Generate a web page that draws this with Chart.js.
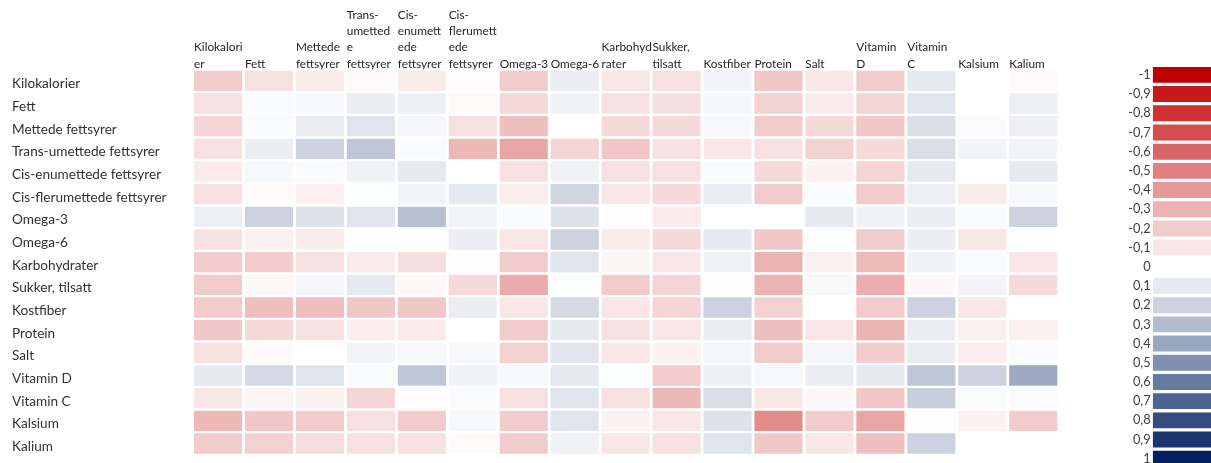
<!DOCTYPE html>
<html lang="no">
<head>
<meta charset="utf-8">
<title>Korrelasjoner mellom næringsstoffer</title>
<script src="https://cdn.jsdelivr.net/npm/chart.js@4.4.1/dist/chart.umd.min.js"></script>
<style>
  html, body { margin: 0; padding: 0; background: #fff; overflow: hidden; width: 1211px; height: 463px; }
  #heat  { position: absolute; left: 0; top: 0; width: 1100px; height: 463px; }
  #scale { position: absolute; left: 1100px; top: 0; width: 140px; height: 478px; }
</style>
</head>
<body>
<div id="heat"><canvas id="heatCanvas"></canvas></div>
<div id="scale"><canvas id="scaleCanvas"></canvas></div>
<script>
// Row and column names of the correlation table
const rowLabels = [
  "Kilokalorier", "Fett", "Mettede fettsyrer", "Trans-umettede fettsyrer",
  "Cis-enumettede fettsyrer", "Cis-flerumettede fettsyrer", "Omega-3", "Omega-6",
  "Karbohydrater", "Sukker, tilsatt", "Kostfiber", "Protein", "Salt",
  "Vitamin D", "Vitamin C", "Kalsium", "Kalium"
];

// Column headings, wrapped the way they appear above the grid
const columnHeaders = [
  ["Kilokalori", "er"], ["Fett"], ["Mettede", "fettsyrer"],
  ["Trans-", "umetted", "e", "fettsyrer"], ["Cis-", "enumett", "ede", "fettsyrer"],
  ["Cis-", "flerumett", "ede", "fettsyrer"], ["Omega-3"], ["Omega-6"],
  ["Karbohyd", "rater"], ["Sukker,", "tilsatt"], ["Kostfiber"], ["Protein"], ["Salt"],
  ["Vitamin", "D"], ["Vitamin", "C"], ["Kalsium"], ["Kalium"]
];

// Correlation coefficients, one array per row (columns in the order above)
const kilokalorier      = [-0.20, -0.12, -0.08, -0.02, -0.08, -0.01, -0.20,  0.08, -0.10, -0.12,  0.05, -0.22, -0.10, -0.20,  0.10,  0.00, -0.02];
const fett              = [-0.12,  0.02,  0.03,  0.08,  0.07, -0.02, -0.15,  0.06, -0.12, -0.13,  0.04, -0.18, -0.08, -0.17,  0.12,  0.00,  0.07];
const mettede           = [-0.16,  0.02,  0.08,  0.12,  0.04, -0.12, -0.25,  0.00, -0.15, -0.15,  0.03, -0.20, -0.15, -0.22,  0.15,  0.02,  0.07];
const transUmettede     = [-0.12,  0.08,  0.20,  0.25,  0.02, -0.28, -0.35, -0.17, -0.22, -0.12, -0.10, -0.12, -0.18, -0.15,  0.15,  0.05,  0.05];
const cisEnumettede     = [-0.08,  0.03,  0.02,  0.06,  0.10,  0.00, -0.12,  0.06, -0.12, -0.12,  0.02, -0.15, -0.05, -0.17,  0.10,  0.00,  0.10];
const cisFlerumettede   = [-0.12, -0.02, -0.05,  0.01,  0.05,  0.10, -0.07,  0.18, -0.10, -0.15,  0.08, -0.20,  0.02, -0.20,  0.07, -0.08,  0.03];
const omega3            = [ 0.07,  0.20,  0.13,  0.12,  0.28,  0.05,  0.02,  0.13, -0.01, -0.08,  0.00,  0.00,  0.10,  0.06,  0.08,  0.02,  0.20];
const omega6            = [-0.12, -0.06, -0.08,  0.00,  0.00,  0.08, -0.10,  0.20, -0.08, -0.15,  0.10, -0.22,  0.01, -0.20,  0.08, -0.10,  0.00];
const karbohydrater     = [-0.20, -0.20, -0.12, -0.08, -0.13, -0.01, -0.20,  0.12, -0.04, -0.10,  0.06, -0.30, -0.06, -0.27,  0.06,  0.02, -0.10];
const sukkerTilsatt     = [-0.20, -0.03,  0.04,  0.10, -0.03, -0.15, -0.33,  0.01, -0.20, -0.17, -0.01, -0.30,  0.03, -0.32, -0.03,  0.05, -0.15];
const kostfiber         = [-0.20, -0.25, -0.25, -0.22, -0.22,  0.08, -0.10,  0.17, -0.10, -0.17,  0.20, -0.18,  0.00, -0.20,  0.20, -0.10,  0.00];
const protein           = [-0.22, -0.15, -0.12, -0.07, -0.08,  0.00, -0.20,  0.10, -0.12, -0.10,  0.08, -0.25, -0.10, -0.30,  0.08, -0.06, -0.06];
const salt              = [-0.12, -0.02,  0.00,  0.05,  0.03,  0.03, -0.18,  0.12, -0.10, -0.05,  0.04, -0.20,  0.04, -0.20,  0.08, -0.07,  0.02];
const vitaminD          = [ 0.10,  0.17,  0.12,  0.02,  0.25,  0.06,  0.03,  0.10,  0.01, -0.20,  0.07,  0.03,  0.08,  0.10,  0.25,  0.20,  0.38];
const vitaminC          = [-0.10, -0.04, -0.05, -0.16, -0.01,  0.02, -0.12,  0.12, -0.12, -0.28,  0.15, -0.10, -0.03, -0.22,  0.22,  0.02,  0.02];
const kalsium           = [-0.28, -0.22, -0.20, -0.12, -0.20,  0.03, -0.20,  0.12, -0.05, -0.10,  0.13, -0.45, -0.20, -0.35, -0.01, -0.05, -0.20];
const kalium            = [-0.20, -0.18, -0.13, -0.12, -0.12, -0.02, -0.20,  0.06, -0.10, -0.12,  0.12, -0.22, -0.10, -0.25,  0.20,  0.00,  0.00];

const matrix = [
  kilokalorier, fett, mettede, transUmettede, cisEnumettede, cisFlerumettede,
  omega3, omega6, karbohydrater, sukkerTilsatt, kostfiber, protein, salt,
  vitaminD, vitaminC, kalsium, kalium
];

// Colour key entries
const scaleValues = [-1, -0.9, -0.8, -0.7, -0.6, -0.5, -0.4, -0.3, -0.2, -0.1, 0, 0.1, 0.2, 0.3, 0.4, 0.5, 0.6, 0.7, 0.8, 0.9, 1];
const scaleLabels = ["-1", "-0,9", "-0,8", "-0,7", "-0,6", "-0,5", "-0,4", "-0,3", "-0,2", "-0,1", "0", "0,1", "0,2", "0,3", "0,4", "0,5", "0,6", "0,7", "0,8", "0,9", "1"];

// Diverging colour ramp: red for negative, white at zero, navy for positive
const NEG = [192, 0, 0];
const POS = [0, 32, 96];
function cellColor(v) {
  const t = Math.min(1, Math.abs(v));
  const end = v < 0 ? NEG : POS;
  const c = end.map(e => Math.round(255 + (e - 255) * t));
  return `rgb(${c[0]},${c[1]},${c[2]})`;
}

const FONT = "Lato, 'Open Sans', sans-serif";
const GAP = 0.0276; // white gutter between cells, in column units

// One floating-bar dataset per column; each bar spans its column on the x scale
const heatDatasets = columnHeaders.map((h, c) => ({
  label: h.join(" "),
  data: matrix.map(() => [c + GAP, c + 1 - GAP]),
  backgroundColor: matrix.map(row => cellColor(row[c])),
  borderWidth: 0,
  borderSkipped: false,
  grouped: false,
  categoryPercentage: 1,
  barPercentage: 0.897
}));

new Chart(document.getElementById("heatCanvas"), {
  type: "bar",
  data: { labels: rowLabels, datasets: heatDatasets },
  options: {
    indexAxis: "y",
    animation: false,
    responsive: true,
    maintainAspectRatio: false,
    layout: { padding: { left: 12, top: 0, right: 41.3, bottom: 3.2 } },
    plugins: { legend: { display: false }, tooltip: { enabled: false } },
    scales: {
      x: {
        type: "linear",
        position: "top",
        min: 0,
        max: columnHeaders.length,
        grid: { display: false, drawTicks: false },
        border: { display: false },
        afterBuildTicks: s => { s.ticks = columnHeaders.map((_, i) => ({ value: i })); },
        afterFit: s => { s.height = 69.5; },
        ticks: {
          autoSkip: false, maxRotation: 0, minRotation: 0,
          align: "start", padding: -2.5, labelOffset: 1.4,
          color: "#262626",
          font: { family: FONT, size: 11.8, lineHeight: 1.38 },
          callback: v => columnHeaders[v]
        }
      },
      y: {
        type: "category",
        grid: { display: false, drawTicks: false },
        border: { display: false },
        afterFit: s => { s.width = 180.6; },
        ticks: {
          crossAlign: "far", padding: 0, labelOffset: 3.2,
          color: "#333333",
          font: { family: FONT, size: 13.6 }
        }
      }
    }
  }
});

// Colour key
new Chart(document.getElementById("scaleCanvas"), {
  type: "bar",
  data: {
    labels: scaleLabels,
    datasets: [{
      data: scaleValues.map(() => 1),
      backgroundColor: scaleValues.map(cellColor),
      borderWidth: 0,
      categoryPercentage: 1,
      barPercentage: 0.83
    }]
  },
  options: {
    indexAxis: "y",
    animation: false,
    responsive: true,
    maintainAspectRatio: false,
    layout: { padding: { left: 0, top: 65.3, right: 0, bottom: 4.4 } },
    plugins: { legend: { display: false }, tooltip: { enabled: false } },
    scales: {
      x: { display: false, min: 0, max: 1 },
      y: {
        grid: { display: false, drawTicks: false },
        border: { display: false },
        afterFit: s => { s.width = 52.7; },
        ticks: { padding: 2, color: "#404040", font: { family: FONT, size: 12.8 } }
      }
    }
  }
});
</script>
</body>
</html>
